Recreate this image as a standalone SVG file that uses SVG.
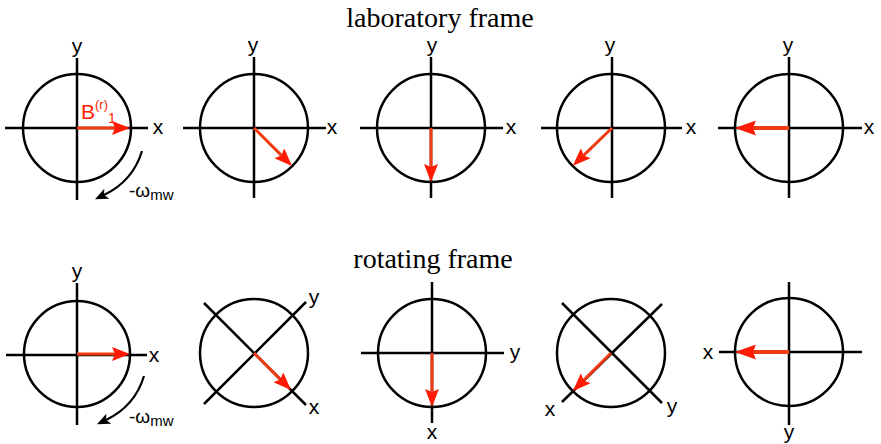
<svg xmlns="http://www.w3.org/2000/svg" width="881" height="444" viewBox="0 0 881 444">
<style>
.ax{stroke:#000;stroke-width:2.5;fill:none}
.ring{stroke:#000;stroke-width:2.5;fill:none}
.vec{stroke:#f03a14;stroke-width:3;fill:none;marker-end:url(#rh)}
.vecb{stroke:#f03a14;stroke-width:4;fill:none;marker-end:url(#rhb)}
.rot{stroke:#000;stroke-width:2.2;fill:none;marker-end:url(#bh)}
.lbl{font-family:"Liberation Sans",Arial,sans-serif;font-size:21px;fill:#000;text-anchor:middle}
.ttl{font-family:"Liberation Serif","Times New Roman",serif;font-size:28px;fill:#000;text-anchor:middle}
.om{font-family:"Liberation Sans",Arial,sans-serif;font-size:19px;fill:#000}
.bl{font-family:"Liberation Sans",Arial,sans-serif;font-size:21px;fill:#ff1a00}
</style>
<defs>
<marker id="rh" markerUnits="userSpaceOnUse" viewBox="0 0 18 14" markerWidth="18" markerHeight="14" refX="3" refY="7" orient="auto">
<path d="M0,0 L18,7 L0,14 L3,7 z" fill="#ff1a00"/>
</marker>
<marker id="rhb" markerUnits="userSpaceOnUse" viewBox="0 0 21 15" markerWidth="21" markerHeight="15" refX="3" refY="7.5" orient="auto">
<path d="M0,0 L21,7.5 L0,15 L3,7.5 z" fill="#ff1a00"/>
</marker>
<marker id="bh" markerUnits="userSpaceOnUse" viewBox="0 0 13 11" markerWidth="13" markerHeight="11" refX="3" refY="5.5" orient="auto">
<path d="M0,0 L13,5.5 L0,11 L3,5.5 z" fill="#000"/>
</marker>
</defs>

<text class="ttl" x="440" y="27">laboratory frame</text>
<text class="ttl" x="433" y="268">rotating frame</text>

<!-- laboratory frame -->
<g id="lab1">
<circle class="ring" cx="77" cy="128" r="54"/>
<line class="ax" x1="5" y1="128" x2="148" y2="128"/>
<line class="ax" x1="77" y1="58" x2="77" y2="200"/>
<text class="lbl" x="77" y="53">y</text>
<text class="lbl" x="158" y="134">x</text>
<text class="bl" x="81" y="119">B<tspan font-size="13" dy="-10">(r)</tspan><tspan font-size="14" dy="14">1</tspan></text>
</g>
<g id="lab2">
<circle class="ring" cx="254" cy="128" r="54"/>
<line class="ax" x1="183" y1="128" x2="326" y2="128"/>
<line class="ax" x1="254" y1="57" x2="254" y2="198"/>
<text class="lbl" x="253" y="52">y</text>
<text class="lbl" x="332" y="134">x</text>
</g>
<g id="lab3">
<circle class="ring" cx="431" cy="128" r="54"/>
<line class="ax" x1="360" y1="128" x2="503" y2="128"/>
<line class="ax" x1="431" y1="57" x2="431" y2="198"/>
<text class="lbl" x="432" y="52">y</text>
<text class="lbl" x="511" y="134">x</text>
</g>
<g id="lab4">
<circle class="ring" cx="611" cy="128" r="54"/>
<line class="ax" x1="541" y1="128" x2="682" y2="128"/>
<line class="ax" x1="612" y1="57" x2="612" y2="198"/>
<text class="lbl" x="610" y="52">y</text>
<text class="lbl" x="691" y="134">x</text>
</g>
<g id="lab5">
<circle class="ring" cx="789" cy="128" r="54"/>
<line class="ax" x1="718" y1="128" x2="862" y2="128"/>
<line class="ax" x1="789" y1="57" x2="789" y2="198"/>
<text class="lbl" x="788" y="52">y</text>
<text class="lbl" x="869" y="134">x</text>
</g>
<g id="lab-omega">
<text class="om" x="129" y="197">-ω<tspan font-size="15" dy="3">mw</tspan></text>
</g>

<!-- rotating frame -->
<g id="rot1">
<circle class="ring" cx="77" cy="354" r="53"/>
<line class="ax" x1="6" y1="355" x2="147" y2="355"/>
<line class="ax" x1="77" y1="283" x2="77" y2="425"/>
<text class="lbl" x="77" y="278">y</text>
<text class="lbl" x="154" y="362">x</text>
</g>
<g id="rot2">
<circle class="ring" cx="254" cy="353" r="54"/>
<line class="ax" x1="204" y1="303" x2="306" y2="405"/>
<line class="ax" x1="204" y1="404" x2="306" y2="302"/>
<text class="lbl" x="314" y="304">y</text>
<text class="lbl" x="314" y="414">x</text>
</g>
<g id="rot3">
<circle class="ring" cx="432" cy="353" r="54"/>
<line class="ax" x1="361" y1="353" x2="504" y2="353"/>
<line class="ax" x1="432" y1="282" x2="432" y2="423"/>
<text class="lbl" x="515" y="359">y</text>
<text class="lbl" x="432" y="439">x</text>
</g>
<g id="rot4">
<circle class="ring" cx="611" cy="353" r="54"/>
<line class="ax" x1="562" y1="303" x2="662" y2="403"/>
<line class="ax" x1="562" y1="402" x2="662" y2="304"/>
<text class="lbl" x="550" y="416">x</text>
<text class="lbl" x="672" y="413">y</text>
</g>
<g id="rot5">
<circle class="ring" cx="789" cy="352" r="54"/>
<line class="ax" x1="719" y1="352" x2="862" y2="352"/>
<line class="ax" x1="789" y1="282" x2="789" y2="425"/>
<text class="lbl" x="708" y="359">x</text>
<text class="lbl" x="789" y="439">y</text>
</g>
<g id="rot-omega">
<text class="om" x="129" y="423">-ω<tspan font-size="15" dy="3">mw</tspan></text>
</g>

<g id="connectors">
<line class="vec" x1="77" y1="128" x2="115" y2="128"/>
<line class="vec" x1="254" y1="128" x2="281.4" y2="155.4"/>
<line class="vec" x1="431" y1="128" x2="431" y2="167"/>
<line class="vec" x1="612" y1="128" x2="583.6" y2="155.4"/>
<line class="vecb" x1="789" y1="128" x2="753" y2="128"/>
<path class="rot" d="M142,151 Q133,181 104,195"/>

<line class="vec" x1="77" y1="354" x2="115" y2="354"/>
<line class="vec" x1="254" y1="353" x2="280.4" y2="379.4"/>
<line class="vec" x1="432" y1="353" x2="432" y2="392"/>
<line class="vec" x1="611" y1="353" x2="583.6" y2="380.4"/>
<line class="vecb" x1="789" y1="352" x2="753" y2="352"/>
<path class="rot" d="M144,376 Q135,406 106,420"/>
</g>
</svg>
